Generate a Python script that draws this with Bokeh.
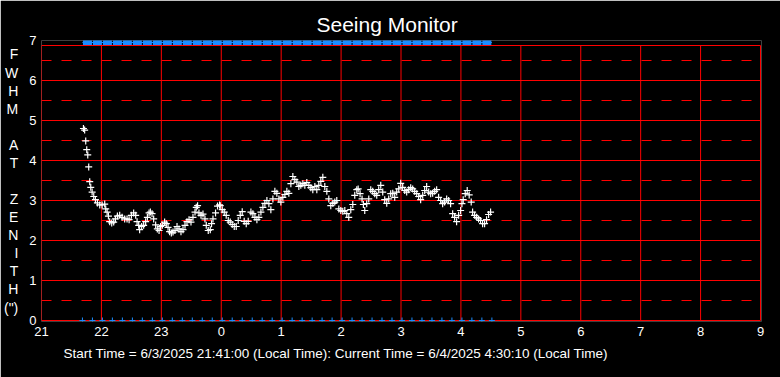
from bokeh.plotting import figure
from bokeh.models import Range1d, FixedTicker, Title
from bokeh.embed import file_html
from bokeh.resources import INLINE

# ---------------- data ----------------
chart_title = "Seeing Monitor"
y_title_letters = ["F", "W", "H", "M", "", "A", "T", "", "Z", "E", "N", "I", "T", "H", "(\")"]
footer_text = "Start Time = 6/3/2025 21:41:00 (Local Time): Current Time = 6/4/2025 4:30:10 (Local Time)"

hour_ticks = [21, 22, 23, 24, 25, 26, 27, 28, 29, 30, 31, 32, 33]
hour_labels = ["21", "22", "23", "0", "1", "2", "3", "4", "5", "6", "7", "8", "9"]
fwhm_ticks = [0, 1, 2, 3, 4, 5, 6, 7]
solid_levels = [0, 1, 2, 3, 4, 5, 6, 6.875]
dashed_levels = [0.5, 1.5, 2.5, 3.5, 4.5, 5.5, 6.5]

# FWHM samples (hours since midnight of 6/3, value in arcsec)
fwhm_time = [
    21.700, 21.720, 21.738, 21.755, 21.772, 21.788, 21.805, 21.822, 21.845, 21.872,
    21.900, 21.933, 21.972, 22.012, 22.055, 22.072, 22.095, 22.117, 22.138, 22.172,
    22.205, 22.233, 22.267, 22.305, 22.345, 22.388, 22.428, 22.462, 22.500, 22.538,
    22.572, 22.595, 22.622, 22.638, 22.672, 22.705, 22.738, 22.767, 22.795, 22.817,
    22.845, 22.872, 22.905, 22.933, 22.962, 22.988, 23.017, 23.055, 23.083, 23.112,
    23.138, 23.167, 23.195, 23.228, 23.262, 23.295, 23.328, 23.362, 23.395, 23.428,
    23.462, 23.495, 23.528, 23.562, 23.583, 23.605, 23.628, 23.662, 23.695, 23.728,
    23.750, 23.783, 23.817, 23.838, 23.862, 23.905, 23.938, 23.972, 23.983, 24.017,
    24.050, 24.083, 24.117, 24.150, 24.183, 24.217, 24.250, 24.283, 24.317, 24.350,
    24.383, 24.417, 24.450, 24.495, 24.528, 24.562, 24.595, 24.628, 24.662, 24.695,
    24.728, 24.762, 24.795, 24.828, 24.862, 24.895, 24.928, 24.962, 24.995, 25.028,
    25.062, 25.095, 25.128, 25.162, 25.195, 25.228, 25.262, 25.295, 25.328, 25.362,
    25.395, 25.428, 25.462, 25.495, 25.528, 25.562, 25.595, 25.628, 25.662, 25.695,
    25.728, 25.762, 25.795, 25.828, 25.862, 25.895, 25.928, 25.962, 25.995, 26.028,
    26.062, 26.095, 26.128, 26.162, 26.195, 26.228, 26.262, 26.285, 26.317, 26.350,
    26.372, 26.395, 26.428, 26.462, 26.495, 26.528, 26.562, 26.595, 26.628, 26.662,
    26.695, 26.728, 26.762, 26.795, 26.828, 26.862, 26.895, 26.928, 26.962, 26.995,
    27.028, 27.062, 27.095, 27.128, 27.162, 27.195, 27.228, 27.262, 27.295, 27.328,
    27.362, 27.395, 27.428, 27.462, 27.495, 27.528, 27.562, 27.595, 27.628, 27.662,
    27.695, 27.728, 27.762, 27.795, 27.828, 27.862, 27.895, 27.928, 27.962, 27.995,
    28.017, 28.038, 28.072, 28.105, 28.138, 28.172, 28.195, 28.228, 28.262, 28.295,
    28.328, 28.362, 28.395, 28.428, 28.462, 28.495,
]
fwhm_value = [
    4.80, 4.76, 4.49, 4.27, 4.14, 3.84, 3.47, 3.33, 3.21, 3.10,
    3.02, 2.94, 2.89, 2.89, 2.91, 2.79, 2.71, 2.61, 2.47, 2.44,
    2.46, 2.54, 2.61, 2.63, 2.58, 2.54, 2.54, 2.52, 2.63, 2.69,
    2.63, 2.47, 2.38, 2.27, 2.35, 2.38, 2.47, 2.58, 2.69, 2.71,
    2.67, 2.54, 2.39, 2.29, 2.25, 2.35, 2.38, 2.46, 2.42, 2.33,
    2.22, 2.19, 2.21, 2.25, 2.35, 2.29, 2.22, 2.27, 2.38, 2.47,
    2.52, 2.46, 2.58, 2.71, 2.83, 2.87, 2.69, 2.63, 2.66, 2.54,
    2.38, 2.25, 2.27, 2.42, 2.54, 2.69, 2.86, 2.89, 2.87, 2.77,
    2.71, 2.63, 2.50, 2.46, 2.40, 2.35, 2.35, 2.50, 2.63, 2.72,
    2.48, 2.42, 2.48, 2.71, 2.67, 2.58, 2.52, 2.58, 2.71, 2.83,
    2.93, 3.00, 2.92, 2.77, 3.04, 3.23, 3.18, 3.04, 2.96, 3.08,
    3.15, 3.23, 3.18, 3.42, 3.60, 3.52, 3.46, 3.35, 3.38, 3.42,
    3.38, 3.45, 3.38, 3.32, 3.27, 3.35, 3.27, 3.38, 3.48, 3.58,
    3.35, 3.23, 3.04, 2.87, 2.93, 2.96, 3.00, 2.79, 2.75, 2.73,
    2.75, 2.67, 2.58, 2.77, 2.90, 3.13, 3.27, 3.29, 3.17, 3.04,
    2.90, 2.75, 2.92, 3.04, 3.27, 3.23, 3.17, 3.13, 3.27, 3.38,
    3.21, 3.02, 2.93, 3.04, 3.17, 3.18, 3.08, 3.21, 3.29, 3.43,
    3.33, 3.25, 3.21, 3.27, 3.32, 3.29, 3.23, 3.17, 3.10, 3.02,
    3.13, 3.25, 3.35, 3.21, 3.17, 3.18, 3.23, 3.27, 3.08, 3.00,
    2.92, 2.96, 3.04, 3.00, 2.92, 2.67, 2.58, 2.47, 2.63, 2.75,
    2.92, 3.02, 3.17, 3.25, 3.14, 2.96, 2.71, 2.63, 2.58, 2.54,
    2.50, 2.42, 2.42, 2.52, 2.65, 2.71,
]

# status marks (every 10 minutes)
bottom_mark_time = [
    21.683, 21.850, 22.017, 22.183, 22.350, 22.517, 22.683, 22.850, 23.017, 23.183,
    23.350, 23.517, 23.683, 23.850, 24.017, 24.183, 24.350, 24.517, 24.683, 24.850,
    25.017, 25.183, 25.350, 25.517, 25.683, 25.850, 26.017, 26.183, 26.350, 26.517,
    26.683, 26.850, 27.017, 27.183, 27.350, 27.517, 27.683, 27.850, 28.017, 28.183,
    28.350, 28.517,
]
bottom_mark_value = [0.0] * len(bottom_mark_time)
top_mark_time = [
    21.767, 21.933, 22.100, 22.267, 22.433, 22.600, 22.767, 22.933, 23.100, 23.267,
    23.433, 23.600, 23.767, 23.933, 24.100, 24.267, 24.433, 24.600, 24.767, 24.933,
    25.100, 25.267, 25.433, 25.600, 25.767, 25.933, 26.100, 26.267, 26.433, 26.600,
    26.767, 26.933, 27.100, 27.267, 27.433, 27.600, 27.767, 27.933, 28.100, 28.267,
    28.433,
]
top_mark_value = [6.95] * len(top_mark_time)

# ---------------- figure ----------------
FONT = "Liberation Sans"
RED = "#ff0000"
BLUE = "#1a8cff"

p = figure(
    width=780, height=377,
    x_range=Range1d(21, 33 + 1 / 60),
    y_range=Range1d(-0.025, 7.0),
    output_backend="svg", toolbar_location=None, title=None,
    min_border_left=40, min_border_right=19, min_border_top=40, min_border_bottom=56,
)
p.background_fill_color = "black"
p.border_fill_color = "black"
p.outline_line_color = None
p.xgrid.visible = False
p.ygrid.visible = False

for ax in (p.xaxis[0], p.yaxis[0]):
    ax.axis_line_color = None
    ax.major_tick_line_color = None
    ax.minor_tick_line_color = None
    ax.major_label_text_color = "white"
    ax.major_label_text_font = FONT
    ax.major_label_text_font_size = "13px"
    ax.major_tick_out = 0
    ax.major_tick_in = 0

p.xaxis.ticker = FixedTicker(ticks=hour_ticks)
p.xaxis.major_label_overrides = {t: l for t, l in zip(hour_ticks, hour_labels)}
p.xaxis.major_label_standoff = 5
p.yaxis.ticker = FixedTicker(ticks=fwhm_ticks)
p.yaxis.major_label_standoff = 5
p.yaxis.axis_label = "\n".join(y_title_letters)
p.yaxis.axis_label_orientation = "horizontal"
p.yaxis.axis_label_text_align = "center"
p.yaxis.axis_label_text_color = "white"
p.yaxis.axis_label_text_font = FONT
p.yaxis.axis_label_text_font_size = "14px"
p.yaxis.axis_label_text_font_style = "normal"
p.yaxis.axis_label_text_line_height = 1.13
p.yaxis.axis_label_standoff = 8

# grid
x_lo, x_hi = hour_ticks[0], hour_ticks[-1]
y_top = solid_levels[-1]
p.segment(x0=hour_ticks, y0=[0] * len(hour_ticks), x1=hour_ticks, y1=[y_top] * len(hour_ticks),
          line_color=RED, line_width=1)
p.segment(x0=[x_lo] * len(solid_levels), y0=solid_levels, x1=[x_hi] * len(solid_levels), y1=solid_levels,
          line_color=RED, line_width=1)
p.segment(x0=[x_lo] * len(dashed_levels), y0=dashed_levels, x1=[x_hi] * len(dashed_levels), y1=dashed_levels,
          line_color=RED, line_width=1, line_dash="10 10")

# status marks
p.line(x=[bottom_mark_time[0], bottom_mark_time[-1]], y=[top_mark_value[0], top_mark_value[0]],
       line_color=BLUE, line_width=1)
p.rect(x=top_mark_time, y=top_mark_value, width=9, height=5,
       width_units="screen", height_units="screen", fill_color=BLUE, line_color=None)
p.scatter(x=bottom_mark_time, y=bottom_mark_value, marker="cross", size=6,
          line_color=BLUE, line_width=1)

# FWHM data
p.scatter(x=fwhm_time, y=fwhm_value, marker="cross", size=7, line_color="white", line_width=1.2)

# texts
p.add_layout(Title(text=chart_title, align="left", offset=275, standoff=10,
                   text_color="white", text_font=FONT, text_font_size="21px",
                   text_font_style="normal"), "above")
p.add_layout(Title(text=footer_text, align="left", offset=22, standoff=11,
                   text_color="white", text_font=FONT, text_font_size="13.5px",
                   text_font_style="normal"), "below")

open("out.html", "w").write(file_html(p, INLINE))
